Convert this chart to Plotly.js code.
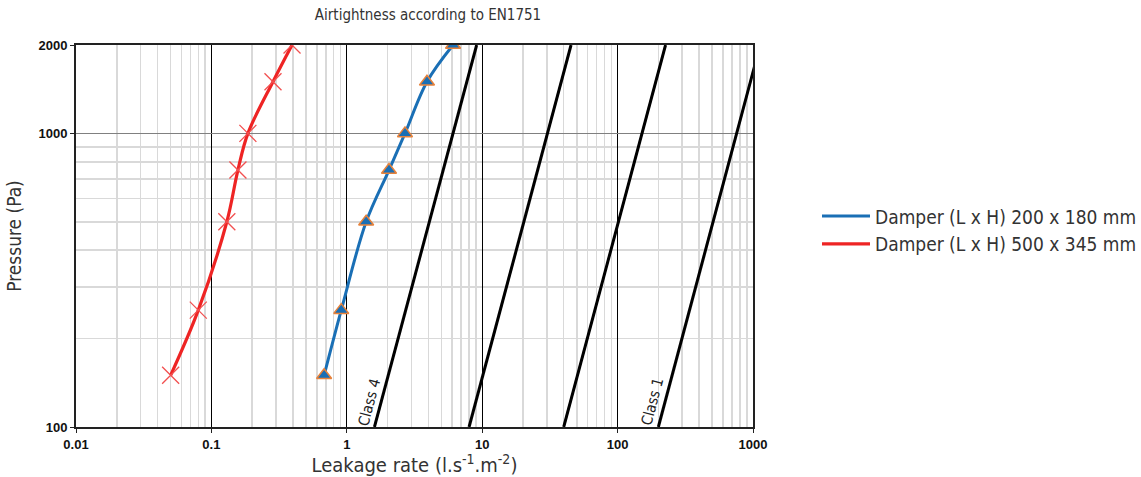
<!DOCTYPE html>
<html>
<head>
<meta charset="utf-8">
<script src="https://cdn.plot.ly/plotly-3.0.1.min.js"></script>
<style>html,body{margin:0;padding:0;background:#fff;}#chart{width:1141px;height:477px;}</style>
</head>
<body>
<div id="chart"></div>
<script>
// Pressures (Pa)
const pressures = [150, 250, 500, 750, 1000, 1500, 2000];
// Leakage rate (l.s-1.m-2)
const damper200x180 = [0.68, 0.91, 1.39, 2.05, 2.69, 3.91, 6.09];
const damper500x345 = [0.050, 0.080, 0.130, 0.157, 0.186, 0.285, 0.394];

// EN1751 class limit lines (leakage at 100 Pa and 2000 Pa)
const classPressures = [100, 2000];
const class1 = [200, 1130];
const class2 = [40, 226];
const class3 = [8, 45.3];
const class4 = [1.6, 9.1];

const xTickVals = [0.01, 0.1, 1, 10, 100, 1000];
const xTickText = ["0.01", "0.1", "1", "10", "100", "1000"];
const xMinor = [0.02,0.03,0.04,0.05,0.06,0.07,0.08,0.09,
                0.2,0.3,0.4,0.5,0.6,0.7,0.8,0.9,
                2,3,4,5,6,7,8,9,
                20,30,40,50,60,70,80,90,
                200,300,400,500,600,700,800,900];
const yTickVals = [100, 1000, 2000];
const yTickText = ["100", "1000", "2000"];
const yMinor = [200,300,400,500,600,700,800,900];

const narrow = '"Liberation Sans Narrow", "DejaVu Sans Condensed", Arial, sans-serif';
const blue = '#1a6fb5';
const red = '#ee2424';

const classLine = (vals) => ({
  x: vals, y: classPressures, mode: 'lines', type: 'scatter',
  line: {color: '#000', width: 3}, showlegend: false, hoverinfo: 'skip'
});

const traces = [
  classLine(class1), classLine(class2), classLine(class3), classLine(class4),
  {x: damper200x180, y: pressures, mode: 'lines', type: 'scatter',
   name: 'Damper (L x H) 200 x 180 mm',
   line: {color: blue, width: 3, shape: 'spline', smoothing: 1}},
  {x: damper500x345, y: pressures, mode: 'lines', type: 'scatter',
   name: 'Damper (L x H) 500 x 345 mm',
   line: {color: red, width: 3.2, shape: 'spline', smoothing: 1}},
  {x: damper200x180, y: pressures, mode: 'markers', type: 'scatter', showlegend: false,
   marker: {symbol: 'triangle-up', size: 13, color: blue, line: {color: '#e8823a', width: 1.5}}},
  {x: damper500x345, y: pressures, mode: 'markers', type: 'scatter', showlegend: false,
   marker: {symbol: 'x-thin-open', size: 17, color: '#f25050', line: {color: '#f25050', width: 1.3}}}
];

const layout = {
  width: 1141, height: 477,
  margin: {l: 76, r: 388, t: 45, b: 50, autoexpand: false},
  paper_bgcolor: '#fff', plot_bgcolor: '#fff',
  title: {text: 'Airtightness according to EN1751', x: 428/1141, xanchor: 'center',
          y: 1 - 15/477, yanchor: 'middle', xref: 'container', yref: 'container',
          font: {family: narrow, size: 15, color: '#333'}},
  xaxis: {
    type: 'log', range: [-2, 3], tickmode: 'array', tickvals: xTickVals, ticktext: xTickText,
    showgrid: true, gridcolor: '#000', gridwidth: 1,
    minor: {tickmode: 'array', tickvals: xMinor, showgrid: true, gridcolor: '#d9d9d9', gridwidth: 1.5, ticks: ''},
    showline: true, linecolor: '#222', linewidth: 2, mirror: true,
    ticks: 'outside', ticklen: 4, tickcolor: '#222', zeroline: false,
    tickfont: {family: 'Liberation Sans, Arial, sans-serif', size: 13, color: '#111', weight: 'bold'},
    title: {text: 'Leakage rate (l.s<sup>-1</sup>.m<sup>-2</sup>)', standoff: 4,
            font: {family: narrow, size: 20, color: '#333'}}
  },
  yaxis: {
    type: 'log', range: [2, Math.log10(2000)], tickmode: 'array', tickvals: yTickVals, ticktext: yTickText,
    showgrid: true, gridcolor: '#808080', gridwidth: 1.5,
    minor: {tickmode: 'array', tickvals: yMinor, showgrid: true, gridcolor: '#d9d9d9', gridwidth: 1.5, ticks: ''},
    showline: true, linecolor: '#222', linewidth: 2, mirror: true,
    ticks: 'outside', ticklen: 4, tickcolor: '#222', zeroline: false,
    tickfont: {family: 'Liberation Sans, Arial, sans-serif', size: 13, color: '#111', weight: 'bold'},
    title: {text: 'Pressure (Pa)', standoff: 12,
            font: {family: narrow, size: 19, color: '#333'}}
  },
  legend: {x: (817 - 76) / 677, xanchor: 'left', y: 0.515, yanchor: 'middle',
           font: {family: narrow, size: 19, color: '#333'}, bgcolor: 'rgba(0,0,0,0)',
           itemwidth: 48, tracegroupgap: 0},
  annotations: [
    {x: Math.log10(1.47), y: Math.log10(121.6), xref: 'x', yref: 'y', text: 'Class 4', showarrow: false,
     textangle: -75, font: {family: narrow, size: 15, color: '#222'}},
    {x: Math.log10(179.5), y: Math.log10(122), xref: 'x', yref: 'y', text: 'Class 1', showarrow: false,
     textangle: -75, font: {family: narrow, size: 15, color: '#222'}}
  ],
  showlegend: true
};

Plotly.newPlot('chart', traces, layout, {displayModeBar: false, staticPlot: true});
</script>
</body>
</html>
